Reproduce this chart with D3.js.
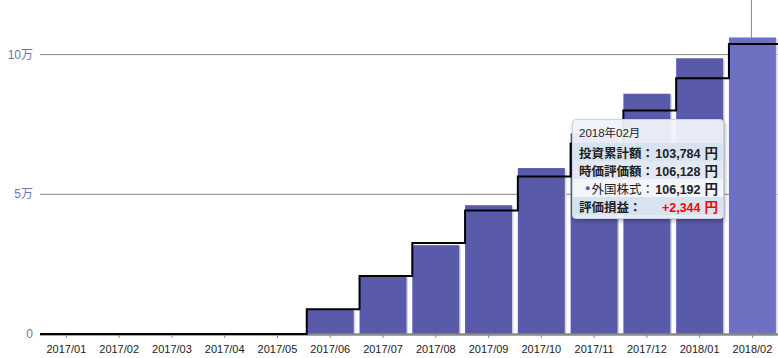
<!DOCTYPE html>
<html><head><meta charset="utf-8">
<script src="https://cdn.jsdelivr.net/npm/d3@7/dist/d3.min.js"></script>
<style>
body{margin:0;background:#fff;font-family:"Liberation Sans","Noto Sans CJK JP",sans-serif;}
#wrap{position:relative;width:778px;height:358px;overflow:hidden;}
#tip{position:absolute;left:572px;top:119px;width:150px;background:rgba(240,242,250,0.95);border:1px solid #c9d2e2;border-radius:4px;box-shadow:1px 2px 4px rgba(0,0,0,0.3);font-size:12.5px;color:#222;overflow:hidden;}
#tip .r{display:flex;height:18px;align-items:center;padding:0 5px 0 6px;white-space:nowrap;}
#tip .t{height:22px;padding-top:1px;font-size:11.5px;}
#tip .b{font-weight:bold;}
#tip .v{margin-left:auto;font-weight:bold;}
#tip .n{font-size:12.5px;}
</style></head>
<body><div id="wrap"><svg id="c" width="778" height="358"></svg><div id="tip"></div></div>
<script>
const categories=["2017/01","2017/02","2017/03","2017/04","2017/05","2017/06","2017/07","2017/08","2017/09","2017/10","2017/11","2017/12","2018/01","2018/02"];
const valuation=[0,0,0,0,0,8600,20500,31800,46100,59400,71800,86000,98700,106128];
const invested=[0,0,0,0,0,8900,20800,32600,44200,56400,68100,80000,91500,103784];
const yTicks=[0,50000,100000];
const yTickLabels=["0","5万","10万"];
const tipTitle="2018年02月";
const tipRows=[["投資累計額：","103,784"],["時価評価額：","106,128"],["外国株式：","106,192"],["評価損益：","+2,344"]];
const tipUnit="円";

const svg=d3.select("#c");
const x=d3.scaleBand().domain(categories).range([40,778.8]).paddingInner(0.11).paddingOuter(0.055);
const y=d3.scaleLinear().domain([0,100000]).range([334,54.6]);

// grid
svg.selectAll("line.g").data(yTicks.filter(d=>d>0)).join("line")
 .attr("x1",40).attr("x2",778).attr("y1",d=>y(d)).attr("y2",d=>y(d))
 .attr("stroke","#888").attr("stroke-width",1);
svg.selectAll("text.yl").data(yTicks).join("text")
 .attr("x",33).attr("y",d=>y(d)+4).attr("text-anchor","end")
 .attr("font-size",12).attr("fill","#6d74b8").text((d,i)=>yTickLabels[i]);

// crosshair
const hx=x("2018/02")+x.bandwidth()/2-1;
svg.append("line").attr("x1",hx).attr("x2",hx).attr("y1",0).attr("y2",334).attr("stroke","#888").attr("stroke-width",1);

// bar shadows
svg.selectAll("rect.s").data(valuation).join("rect")
 .attr("x",(d,i)=>x(categories[i])+1.5).attr("width",x.bandwidth())
 .attr("y",d=>y(d)+1).attr("height",d=>Math.max(0,y(0)-y(d)-1))
 .attr("fill","#d2d3ee");
svg.selectAll("rect.b").data(valuation).join("rect")
 .attr("x",(d,i)=>x(categories[i])).attr("width",x.bandwidth())
 .attr("y",d=>y(d)).attr("height",d=>y(0)-y(d))
 .attr("fill",(d,i)=>i===categories.length-1?"#6e70c2":"#5a5aab");

// axis
svg.append("line").attr("x1",40).attr("x2",778).attr("y1",334.5).attr("y2",334.5).attr("stroke","#888").attr("stroke-width",2.5);
svg.selectAll("line.t").data(categories).join("line")
 .attr("x1",d=>x(d)+x.bandwidth()/2).attr("x2",d=>x(d)+x.bandwidth()/2)
 .attr("y1",334).attr("y2",338).attr("stroke","#888").attr("stroke-width",1);
svg.selectAll("text.xl").data(categories).join("text")
 .attr("x",d=>x(d)+x.bandwidth()/2).attr("y",353).attr("text-anchor","middle")
 .attr("font-size",11).attr("fill","#222").text(d=>d);

// step line
const pts=invested.map((v,i)=>[x(categories[i]),y(v)]);
pts[0][0]=40;
pts.push([778.8,y(invested[invested.length-1])]);
svg.append("path").attr("d",d3.line().curve(d3.curveStepAfter)(pts))
 .attr("fill","none").attr("stroke","#000").attr("stroke-width",2);

// tooltip
const tip=d3.select("#tip");
tip.append("div").attr("class","r t").text(tipTitle);
const bgs=["#d8e3f0","#e2e9f4","#f3f5fb","#d8e3f0"];
tipRows.forEach((r,i)=>{
 const row=tip.append("div").attr("class","r").style("background",bgs[i]);
 if(i===2){row.style("padding-left","12px");
  row.append("span").style("color","#5a5aab").style("font-size","9px").style("margin-right","1px").text("●");
  row.append("span").text(r[0]);}
 else row.append("span").attr("class","b").text(r[0]);
 const v=row.append("span").attr("class","v").style("color",i===3?"#ff0000":"#222");
 v.append("span").attr("class","n").text(r[1]);
 v.append("span").style("margin-left","4px").style("font-size","13.5px").text(tipUnit);
});
tip.append("div").style("height","3px");
</script></body></html>
